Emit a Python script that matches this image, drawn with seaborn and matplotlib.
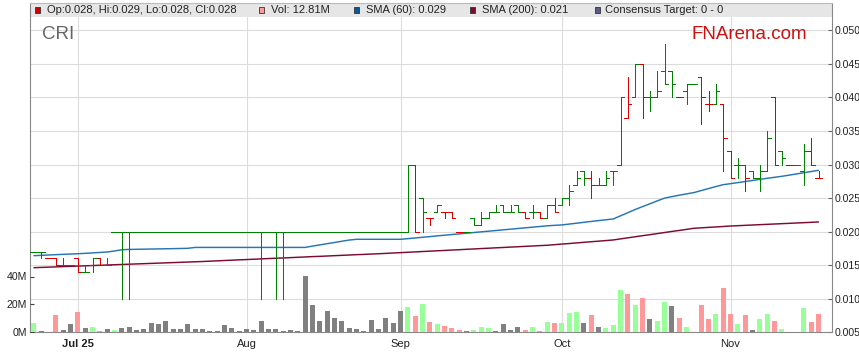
import numpy as np
import pandas as pd
import matplotlib
matplotlib.use("Agg")
import matplotlib.pyplot as plt
import matplotlib.ticker as mticker
from matplotlib.patches import Rectangle
import seaborn as sns

# ---------------- data ----------------
ticker = "CRI"
start_date = "2025-06-23"
end_date = "2025-11-19"

F = 0.020  # flat price level (shorthand for reading)
opens = [0.017, 0.017, 0.016, 0.016, 0.015, 0.015, 0.016, 0.014, 0.015, 0.016, 0.015,
         F, F, F, F, F, F, F, F, F, F, F, F, F, F, F, F, F, F, F, F,
         F, F, F, F, F, F, F, F, F, F, F, F, F, F, F, F, F, F, F, F,
         0.020, 0.030, 0.025, 0.022, 0.023, 0.023, 0.023, 0.020, 0.020, 0.022,
         0.021, 0.022, 0.023, 0.024, 0.023, 0.024, 0.023, 0.023, 0.023, 0.022,
         0.024, 0.024, 0.025, 0.027, 0.029, 0.028, 0.027, 0.027, 0.029, 0.030,
         0.037, 0.040, 0.045, 0.040, 0.040, 0.044, 0.044, 0.040, 0.041, 0.042,
         0.043, 0.039, 0.039, 0.039, 0.032, 0.030, 0.030, 0.029, 0.028, 0.029,
         0.040, 0.032, 0.030, 0.030, 0.029, 0.032, 0.028]
highs = [0.017, 0.017, 0.016, 0.016, 0.016, 0.015, 0.016, 0.015, 0.016, 0.016, 0.016,
         F, F, F, F, F, F, F, F, F, F, F, F, F, F, F, F, F, F, F, F,
         F, F, F, F, F, F, F, F, F, F, F, F, F, F, F, F, F, F, F, F,
         0.030, 0.030, 0.025, 0.022, 0.024, 0.023, 0.023, 0.020, 0.020, 0.022,
         0.023, 0.023, 0.024, 0.024, 0.024, 0.024, 0.023, 0.024, 0.023, 0.024,
         0.025, 0.025, 0.027, 0.029, 0.029, 0.029, 0.028, 0.029, 0.029, 0.040,
         0.043, 0.045, 0.045, 0.041, 0.044, 0.048, 0.044, 0.040, 0.042, 0.042,
         0.043, 0.041, 0.042, 0.039, 0.032, 0.031, 0.030, 0.029, 0.030, 0.035,
         0.040, 0.032, 0.030, 0.030, 0.033, 0.034, 0.029]
lows = [0.017, 0.016, 0.016, 0.015, 0.015, 0.015, 0.014, 0.014, 0.014, 0.015, 0.015,
        F, 0.010, 0.010, F, F, F, F, F, F, F, F, F, F, F, F, F, F, F, F, F,
        0.010, F, 0.010, 0.010, F, F, F, F, F, F, F, F, F, F, F, F, F, F, F, F,
        0.020, 0.020, 0.020, 0.021, 0.023, 0.022, 0.022, 0.020, 0.020, 0.021,
        0.021, 0.022, 0.023, 0.023, 0.023, 0.023, 0.022, 0.022, 0.022, 0.022,
        0.023, 0.024, 0.024, 0.027, 0.027, 0.025, 0.027, 0.027, 0.027, 0.030,
        0.037, 0.040, 0.037, 0.038, 0.040, 0.042, 0.040, 0.040, 0.039, 0.042,
        0.036, 0.038, 0.039, 0.029, 0.028, 0.028, 0.026, 0.028, 0.026, 0.029,
        0.030, 0.030, 0.030, 0.030, 0.027, 0.030, 0.028]
closes = [0.017, 0.017, 0.016, 0.015, 0.015, 0.015, 0.014, 0.014, 0.016, 0.015, 0.015,
          F, F, F, F, F, F, F, F, F, F, F, F, F, F, F, F, F, F, F, F,
          F, F, F, F, F, F, F, F, F, F, F, F, F, F, F, F, F, F, F, F,
          0.030, 0.020, 0.023, 0.022, 0.024, 0.023, 0.022, 0.020, 0.020, 0.021,
          0.022, 0.023, 0.023, 0.023, 0.023, 0.023, 0.022, 0.023, 0.022, 0.024,
          0.023, 0.025, 0.026, 0.028, 0.028, 0.027, 0.027, 0.028, 0.029, 0.040,
          0.039, 0.045, 0.040, 0.040, 0.041, 0.042, 0.042, 0.040, 0.042, 0.042,
          0.040, 0.039, 0.041, 0.034, 0.028, 0.030, 0.028, 0.028, 0.029, 0.034,
          0.030, 0.031, 0.030, 0.030, 0.032, 0.030, 0.028]
volume_m = [6.5, 0.8, 0.0, 12.3, 1.6, 5.8, 14.4, 3.0, 3.7, 0.8,
            2.2, 1.6, 3.0, 3.7, 1.6, 2.2, 6.5, 5.9, 8.0, 2.3,
            2.3, 5.9, 2.3, 2.3, 1.0, 1.0, 5.2, 3.0, 1.0, 2.3,
            1.7, 8.0, 2.3, 2.3, 1.0, 1.7, 1.0, 40.2, 19.5, 8.1,
            15.2, 10.2, 8.1, 3.1, 2.4, 1.0, 8.8, 2.4, 10.2, 6.7,
            15.2, 18.1, 11.7, 20.2, 7.4, 6.0, 4.5, 3.1, 1.7, 1.0,
            1.7, 3.8, 3.1, 1.0, 6.0, 1.7, 3.8, 1.7, 3.8, 1.0,
            7.4, 6.7, 6.7, 13.8, 14.5, 6.7, 12.4, 3.8, 3.1, 5.0,
            30.2, 27.4, 19.5, 24.5, 9.5, 8.1, 21.7, 18.8, 10.2, 3.8,
            0.0, 19.5, 9.5, 13.1, 31.7, 13.1, 6.0, 12.4, 1.7, 9.5,
            13.1, 8.1, 2.4, 0.0, 0.0, 17.4, 7.4, 12.81]
sma60 = [0.01642, 0.01647, 0.01652, 0.01657, 0.01662, 0.01666, 0.01671, 0.01677, 0.01683, 0.01690, 0.01697,
         0.01712, 0.01731, 0.01735, 0.01737, 0.01739, 0.01741, 0.01743, 0.01745, 0.01747, 0.01749, 0.01752,
         0.01765, 0.01765, 0.01765, 0.01765, 0.01765, 0.01765, 0.01765, 0.01765,
         0.01765, 0.01765, 0.01765, 0.01765, 0.01765, 0.01765, 0.01765, 0.01765,
         0.01785, 0.01803, 0.01821, 0.01839, 0.01857, 0.01875, 0.01886,
         0.01886, 0.01886, 0.01886, 0.01886, 0.01886, 0.01886,
         0.01896, 0.01906, 0.01916, 0.01926, 0.01937, 0.01947, 0.01957, 0.01967, 0.01977, 0.01987, 0.01997,
         0.02007, 0.02017, 0.02027, 0.02037, 0.02047, 0.02057, 0.02067, 0.02077, 0.02087, 0.02094, 0.02100,
         0.02113, 0.02126, 0.02139, 0.02152, 0.02165, 0.02177, 0.02189,
         0.02236, 0.02283, 0.02330, 0.02373, 0.02415, 0.02458, 0.02500,
         0.02522, 0.02543, 0.02563, 0.02582, 0.02612, 0.02642, 0.02672, 0.02700,
         0.02715, 0.02731, 0.02747, 0.02763, 0.02779, 0.02795, 0.02810, 0.02825, 0.02842,
         0.02860, 0.02878, 0.02896, 0.02914]
sma200 = [0.01463, 0.01467, 0.01471, 0.01475, 0.01479, 0.01483, 0.01487, 0.01491, 0.01495, 0.01499,
          0.01503, 0.01507, 0.01511, 0.01515, 0.01519, 0.01523, 0.01527, 0.01531, 0.01535, 0.01539,
          0.01543, 0.01547, 0.01551, 0.01555,
          0.01560, 0.01565, 0.01570, 0.01575, 0.01580, 0.01584, 0.01589, 0.01594, 0.01599, 0.01604,
          0.01608, 0.01613, 0.01618,
          0.01623, 0.01628, 0.01632, 0.01637, 0.01642, 0.01647, 0.01652, 0.01657, 0.01661, 0.01666, 0.01671,
          0.01676, 0.01682, 0.01687, 0.01693, 0.01698, 0.01704, 0.01709, 0.01715, 0.01720, 0.01726,
          0.01731, 0.01737, 0.01742, 0.01748, 0.01753, 0.01759, 0.01764, 0.01770, 0.01775, 0.01781,
          0.01786, 0.01792, 0.01797,
          0.01806, 0.01815, 0.01823, 0.01832, 0.01841, 0.01850, 0.01858, 0.01867, 0.01876,
          0.01892, 0.01908, 0.01924, 0.01940, 0.01955, 0.01971, 0.01987, 0.02003, 0.02018, 0.02034, 0.02050,
          0.02057, 0.02064, 0.02070, 0.02077, 0.02084,
          0.02089, 0.02094, 0.02099, 0.02104, 0.02109, 0.02114, 0.02119, 0.02124, 0.02129, 0.02134,
          0.02139, 0.02144]
month_labels = ["Jul 25", "Aug", "Sep", "Oct", "Nov"]
price_ticks = [0.005, 0.010, 0.015, 0.020, 0.025, 0.030, 0.035, 0.040, 0.045, 0.050]
volume_ticks = [0, 20, 40]
consensus_text = "Consensus Target: 0 - 0"

# ---------------- derived ----------------
dates = pd.bdate_range(start_date, end_date)
n = len(dates)
for arr in (opens, highs, lows, closes, volume_m, sma60, sma200):
    assert len(arr) == n, (len(arr), n)
o, h, l, c = (np.array(a) for a in (opens, highs, lows, closes))
x = np.arange(n)
prev = np.r_[np.nan, c[:-1]]
direction = np.where(np.isnan(prev) | (c > prev + 1e-9), "up",
                     np.where(c < prev - 1e-9, "down", "flat"))
month_pos = [i for i in range(1, n) if dates[i].month != dates[i - 1].month]

GREEN, RED = "#008000", "#dd0000"
bar_colors = np.where(direction == "down", RED, GREEN)
vol_palette = {"up": "#99ff99", "down": "#ff9999", "flat": "#808080"}

# ---------------- figure ----------------
sns.set_theme(style="white")
plt.rcParams["font.family"] = ["Liberation Sans", "DejaVu Sans"]
plt.rcParams["patch.force_edgecolor"] = False

W, H = 859, 363
L, R, T, B = 30.3, 831.7, 2.7, 332.3
fig = plt.figure(figsize=(W / 100, H / 100), dpi=100)
ax_p = fig.add_axes([L / W, 1 - B / H, (R - L) / W, (B - T) / H])
ax_v = ax_p.twinx()

ax_p.set_axisbelow(True)
ax_p.grid(True, color="#dcdcdc", lw=0.8)

# band for legend
band_h = (16.7 - T) / (B - T)
ax_p.add_patch(Rectangle((0, 1 - band_h), 1, band_h, transform=ax_p.transAxes,
                         facecolor="#e6e6e6", edgecolor="none", zorder=1))

# OHLC bars
tick = 0.48
lw_bar = 0.62
ax_p.vlines(x, l, h, colors=bar_colors, lw=lw_bar, zorder=3, antialiased=False)
ax_p.hlines(o, x - tick, x, colors=bar_colors, lw=lw_bar, zorder=3, antialiased=False)
ax_p.hlines(c, x, x + tick, colors=bar_colors, lw=lw_bar, zorder=3, antialiased=False)

# SMAs
sns.lineplot(x=x, y=sma60, ax=ax_p, color="#2576b3", lw=1.05, zorder=2)
sns.lineplot(x=x, y=sma200, ax=ax_p, color="#7d0a32", lw=1.05, zorder=2)

# volume
df = pd.DataFrame({"idx": x, "vol": volume_m, "dir": direction})
sns.barplot(data=df, x="idx", y="vol", hue="dir", palette=vol_palette,
            native_scale=True, dodge=False, width=0.68, saturation=1,
            errorbar=None, legend=False, ax=ax_v, zorder=1,
            linewidth=0, edgecolor="none")

# scales
px_per_price = 6710.0
px_per_mvol = 1.395
ax_p.set_xlim(-0.5, 108.8)
ax_p.set_ylim(0.005, 0.005 + (B - T) / px_per_price)
ax_v.set_ylim(0, (B - T) / px_per_mvol)

ax_p.yaxis.tick_right()
ax_p.set_yticks(price_ticks)
ax_p.yaxis.set_major_formatter(mticker.FuncFormatter(lambda v, p: f"{v:.3f}"))
ax_v.yaxis.tick_left()
ax_v.set_yticks(volume_ticks)
ax_v.set_yticklabels([f"{v}M" for v in volume_ticks])
ax_p.set_xticks(month_pos)
ax_p.set_xticklabels(month_labels)
ax_p.get_xticklabels()[0].set_fontweight("bold")

ax_p.set_xlabel("")
ax_p.set_ylabel("")
ax_v.set_xlabel("")
ax_v.set_ylabel("")

ax_p.tick_params(axis="x", direction="out", length=2.3, width=0.8, color="#666",
                 pad=2.3, labelsize=8, labelcolor="#222")
ax_p.tick_params(axis="y", direction="in", length=2.6, width=0.8, color="#666",
                 pad=1.9, labelsize=7.6, labelcolor="#222")
ax_v.tick_params(axis="y", direction="in", length=2.8, width=0.8, color="#444",
                 pad=2.2, labelsize=7.6, labelcolor="#222")

for s in ax_v.spines.values():
    s.set_visible(False)
for name, s in ax_p.spines.items():
    s.set_linewidth(0.8)
    s.set_color("#bbbbbb" if name == "top" else "#888888")

# legend row
def fx(px):
    return px / W

def fy(py):
    return 1 - py / H

items = [
    ("#cc0000", 35.0, 46.7, f"Op:{o[-1]:.3f}, Hi:{h[-1]:.3f}, Lo:{l[-1]:.3f}, Cl:{c[-1]:.3f}"),
    ("#ff9999", 259.0, 270.7, f"Vol: {volume_m[-1]:.2f}M"),
    ("#0a5a99", 354.0, 366.0, f"SMA (60): {sma60[-1]:.3f}"),
    ("#7d0a32", 469.5, 481.7, f"SMA (200): {sma200[-1]:.3f}"),
    ("#5a5a8c", 595.0, 605.0, consensus_text),
]
for col, sx, tx, txt in items:
    fig.add_artist(Rectangle((fx(sx), fy(12.6)), 5.2 / W, 5.2 / H, transform=fig.transFigure,
                             facecolor=col, edgecolor="#333333", lw=0.6))
    fig.text(fx(tx), fy(10.2), txt, fontsize=8, color="#222222", ha="left", va="center")

fig.text(fx(41.7), fy(39.3), ticker, fontsize=13.5, color="#666666", ha="left", va="baseline")
fig.text(fx(691.7), fy(39.3), "FNArena.com", fontsize=13.5, color="#cc1111", ha="left", va="baseline")

fig.savefig("out.png", dpi=100)
